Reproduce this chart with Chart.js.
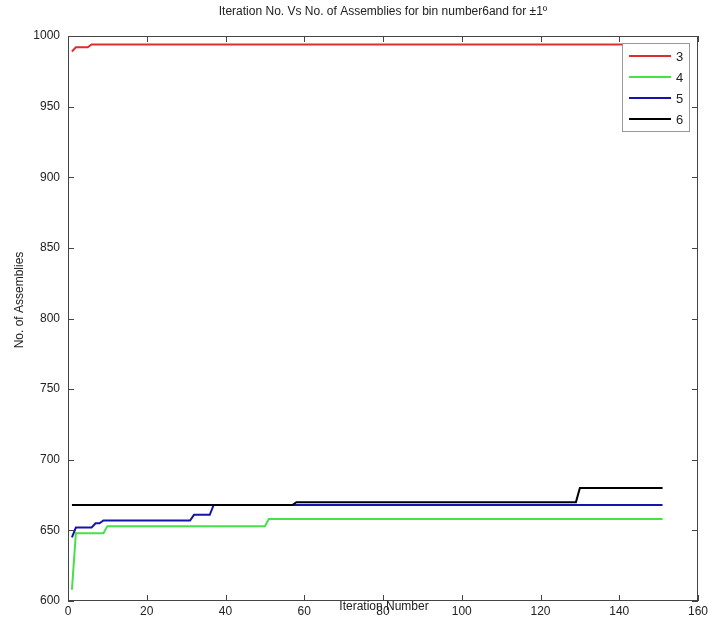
<!DOCTYPE html>
<html>
<head>
<meta charset="utf-8">
<script src="https://cdn.jsdelivr.net/npm/chart.js@4.4.1/dist/chart.umd.min.js"></script>
<style>
  html, body { margin: 0; padding: 0; background: #fff; }
  #wrap { width: 709px; height: 619px; }
</style>
</head>
<body>
<div id="wrap"><canvas id="myChart"></canvas></div>
<script>
// corner points of each curve
const binNames = ['3', '4', '5', '6'];
const redIter   = [1, 2, 5, 6, 151];
const redVal    = [989, 992, 992, 994, 994];
const greenIter = [1, 2, 9, 10, 50, 51, 151];
const greenVal  = [608, 648, 648, 653, 653, 658, 658];
const blueIter  = [1, 2, 6, 7, 8, 9, 31, 32, 36, 37, 151];
const blueVal   = [645, 652, 652, 655, 655, 657, 657, 661, 661, 668, 668];
const blackIter = [1, 57, 58, 129, 130, 151];
const blackVal  = [668, 668, 670, 670, 680, 680];
const xTicks = [0, 20, 40, 60, 80, 100, 120, 140, 160];
const yTicks = [600, 650, 700, 750, 800, 850, 900, 950, 1000];

const colors = ['rgb(222,45,45)', 'rgb(70,225,70)', 'rgb(20,20,170)', 'rgb(0,0,0)'];
const FONT = '"Liberation Sans", Arial, sans-serif';

function pts(xs, ys) {
  return xs.map((x, i) => ({ x: x, y: ys[i] }));
}

// box, inward ticks, titles and legend like the matlab figure
const matlabFrame = {
  id: 'matlabFrame',
  afterDraw(chart) {
    const c = chart.ctx;
    const a = chart.chartArea;
    const xs = chart.scales.x, ys = chart.scales.y;
    c.save();
    c.strokeStyle = '#444';
    c.lineWidth = 1;
    c.strokeRect(a.left + 0.5, a.top + 0.5, a.right - a.left - 1, a.bottom - a.top - 1);
    c.beginPath();
    xTicks.forEach(t => {
      const px = Math.round(xs.getPixelForValue(t)) + 0.5;
      c.moveTo(px, a.bottom); c.lineTo(px, a.bottom - 6);
      c.moveTo(px, a.top); c.lineTo(px, a.top + 6);
    });
    yTicks.forEach(t => {
      const py = Math.round(ys.getPixelForValue(t)) + 0.5;
      c.moveTo(a.left, py); c.lineTo(a.left + 6, py);
      c.moveTo(a.right, py); c.lineTo(a.right - 6, py);
    });
    c.stroke();

    // titles
    c.fillStyle = '#222';
    c.font = '12px ' + FONT;
    c.textAlign = 'center';
    c.textBaseline = 'middle';
    c.fillText('Iteration No. Vs No. of Assemblies for bin number6and for \u00b11\u00ba', 383, 12);
    c.fillText('Iteration Number', 384, 607);
    c.save();
    c.translate(20, 300);
    c.rotate(-Math.PI / 2);
    c.fillText('No. of Assemblies', 0, 0);
    c.restore();

    // legend
    const lx = 622, ly = 43, lw = 67, lh = 88;
    c.fillStyle = '#fff';
    c.fillRect(lx, ly, lw, lh);
    c.strokeStyle = '#999';
    c.strokeRect(lx + 0.5, ly + 0.5, lw, lh);
    c.font = '13px ' + FONT;
    c.textAlign = 'left';
    binNames.forEach((n, i) => {
      const yy = 56 + i * 21;
      c.strokeStyle = colors[i];
      c.lineWidth = 2;
      c.beginPath();
      c.moveTo(629, yy); c.lineTo(671, yy);
      c.stroke();
      c.fillStyle = '#222';
      c.fillText(n, 676, yy + 1);
    });
    c.restore();
  }
};

const ctx = document.getElementById('myChart');
const chart = new Chart(ctx, {
  type: 'line',
  data: {
    datasets: [
      { label: binNames[0], data: pts(redIter, redVal), borderColor: colors[0], order: 3 },
      { label: binNames[1], data: pts(greenIter, greenVal), borderColor: colors[1], order: 2 },
      { label: binNames[2], data: pts(blueIter, blueVal), borderColor: colors[2], order: 1 },
      { label: binNames[3], data: pts(blackIter, blackVal), borderColor: colors[3], order: 0 }
    ]
  },
  options: {
    responsive: true,
    maintainAspectRatio: false,
    animation: false,
    elements: {
      point: { radius: 0 },
      line: { borderWidth: 2, tension: 0 }
    },
    layout: { padding: { top: 36, right: 11, left: 0, bottom: 0 } },
    plugins: {
      legend: { display: false },
      tooltip: { enabled: false }
    },
    scales: {
      x: {
        type: 'linear',
        min: 0, max: 160,
        afterFit: s => { s.height = 18; s.paddingLeft = 0; s.paddingRight = 0; },
        afterBuildTicks: s => { s.ticks = xTicks.map(v => ({ value: v })); },
        grid: { display: false, drawTicks: false },
        border: { display: false },
        ticks: { color: '#222', font: { family: FONT, size: 12 }, padding: 3, maxRotation: 0 }
      },
      y: {
        min: 600, max: 1000,
        afterFit: s => { s.width = 68; s.paddingTop = 0; s.paddingBottom = 0; },
        afterBuildTicks: s => { s.ticks = yTicks.map(v => ({ value: v })); },
        grid: { display: false, drawTicks: false },
        border: { display: false },
        ticks: { color: '#222', font: { family: FONT, size: 12 }, padding: 8, callback: v => String(v) }
      }
    }
  },
  plugins: [matlabFrame]
});
</script>
</body>
</html>
